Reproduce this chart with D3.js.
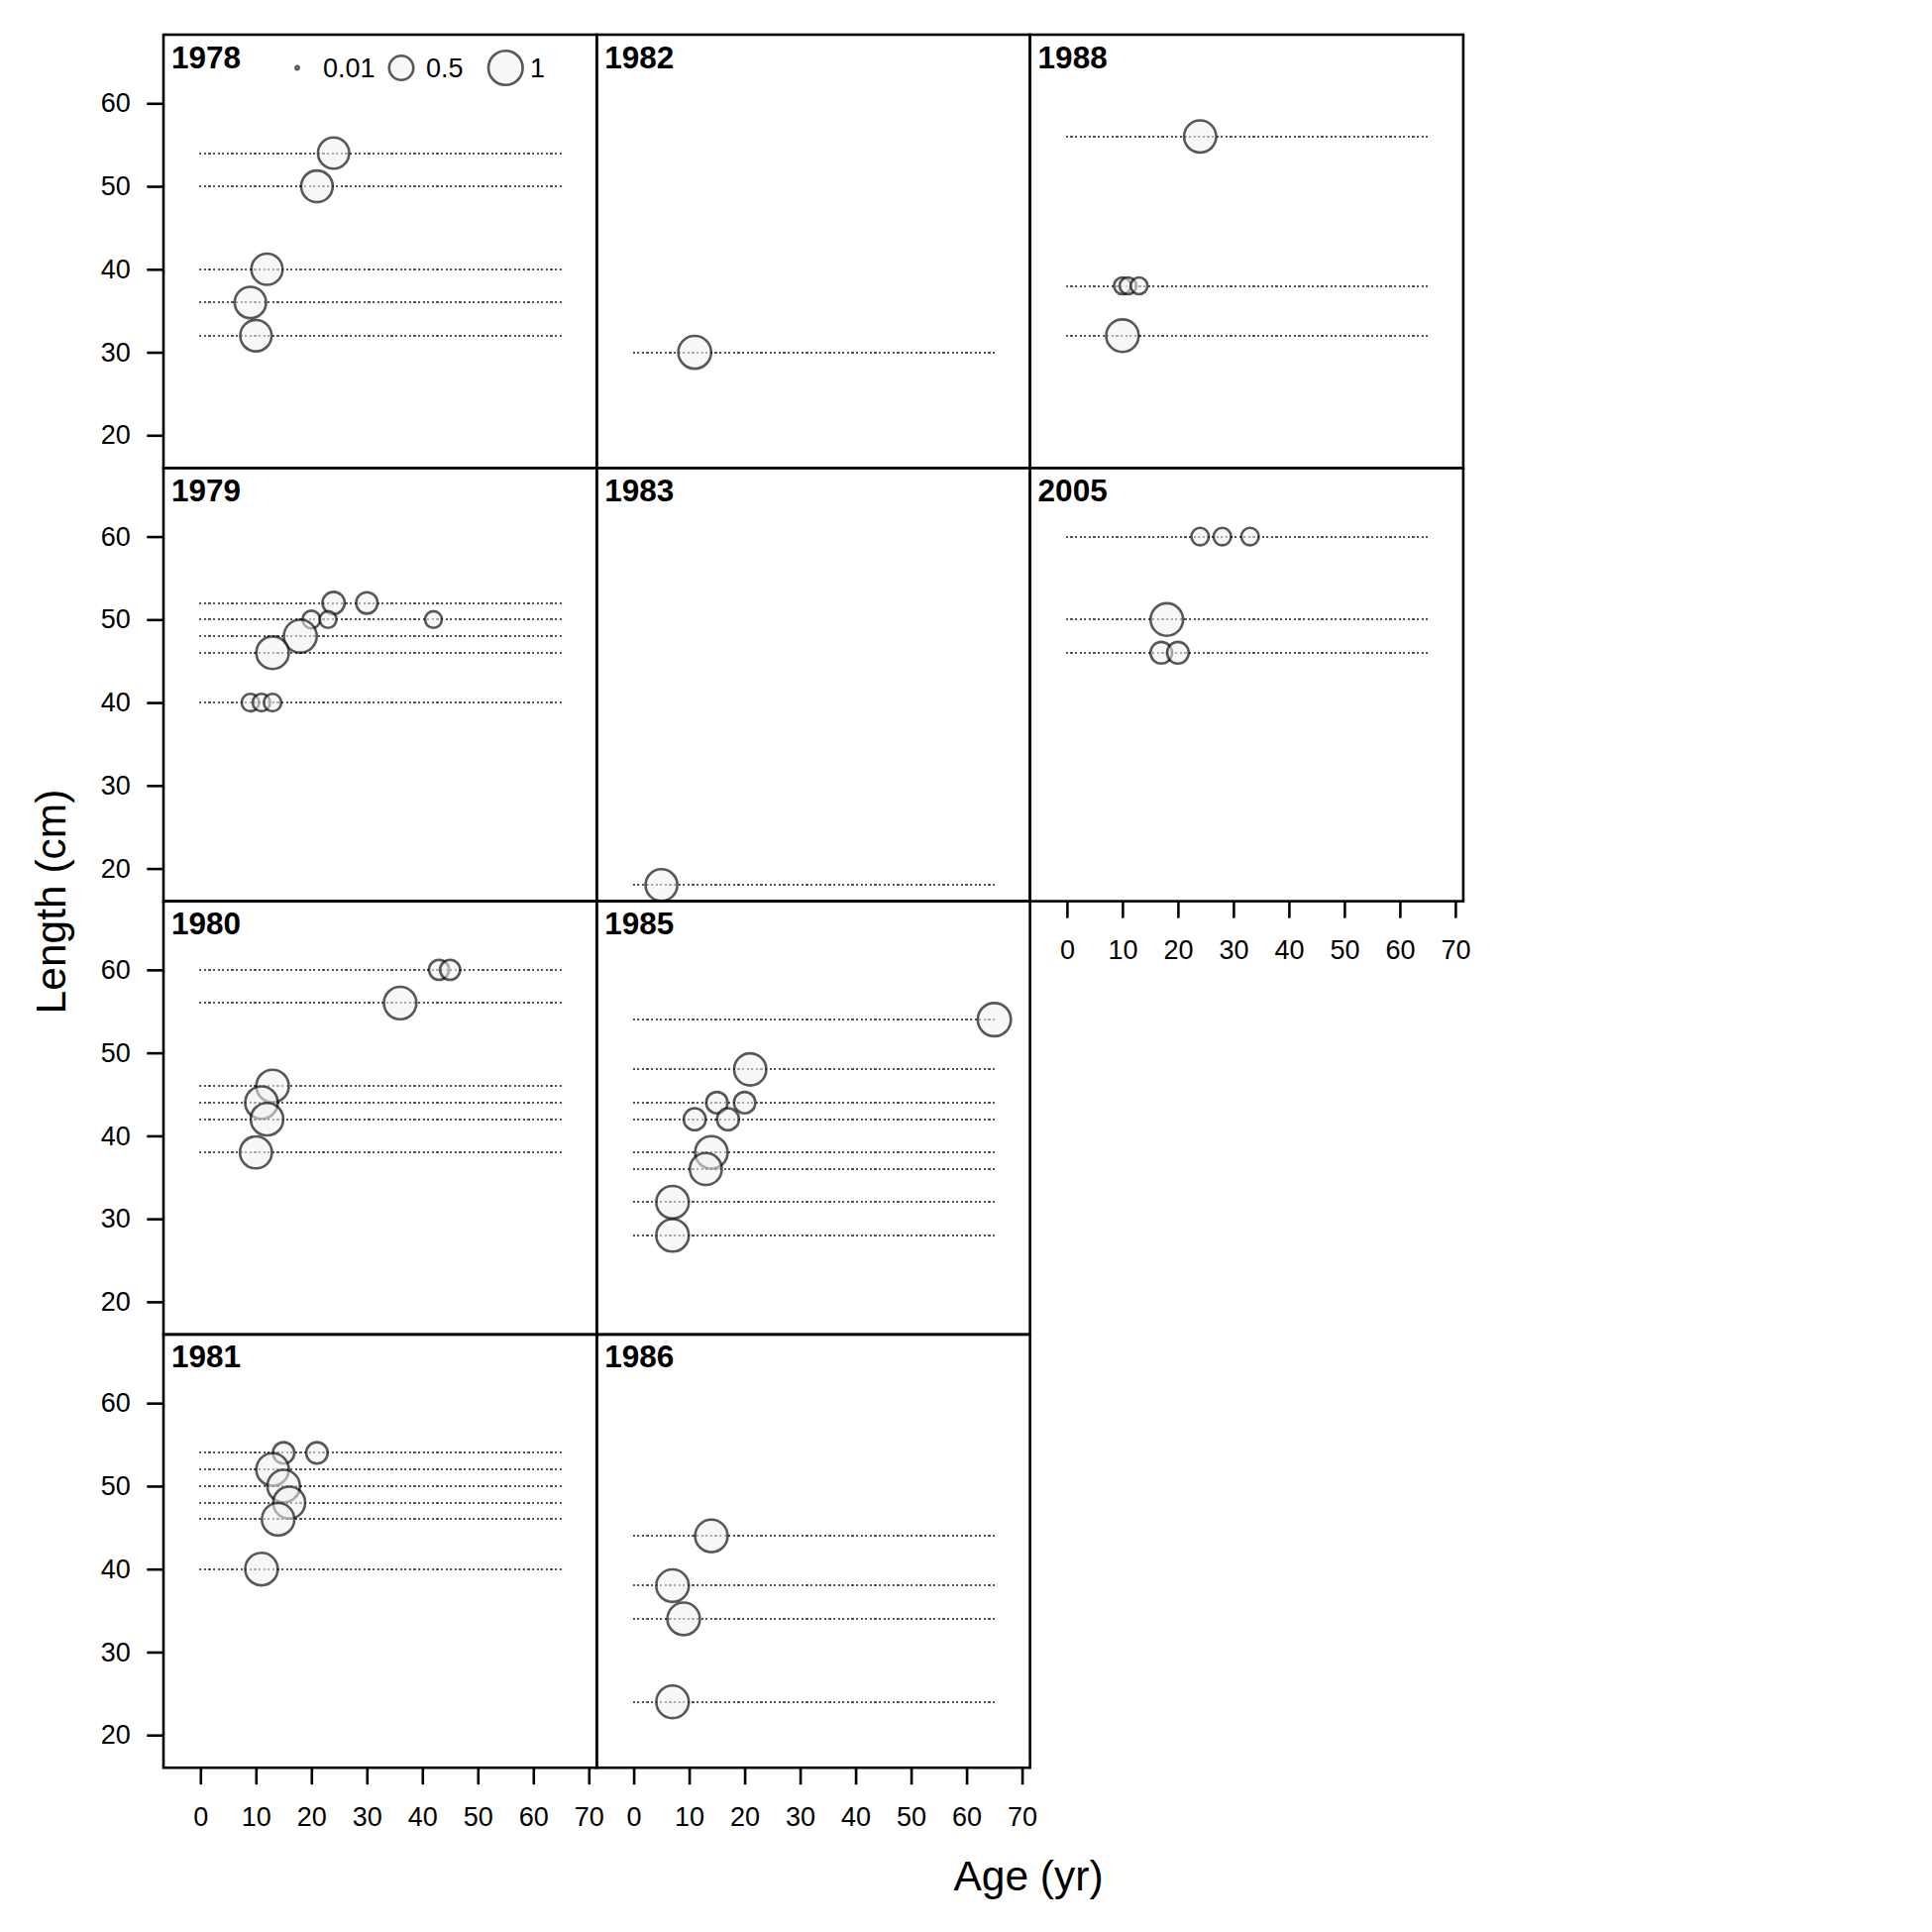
<!DOCTYPE html>
<html>
<head>
<meta charset="utf-8">
<script src="https://cdn.jsdelivr.net/npm/d3@7"></script>
<style>
  html, body { margin: 0; padding: 0; background: #ffffff; }
  svg { display: block; font-family: "Liberation Sans", Arial, sans-serif; }
</style>
</head>
<body>
<svg id="chart" width="1950" height="1950"></svg>
<script>
// ---------------- DATA ----------------
const panelYears = ["1978", "1979", "1980", "1981", "1982", "1983", "1985", "1986", "1988", "2005"];

const obsYear = [
  "1978","1978","1978","1978","1978",
  "1979","1979","1979","1979","1979","1979","1979","1979","1979","1979",
  "1980","1980","1980","1980","1980","1980","1980",
  "1981","1981","1981","1981","1981","1981","1981",
  "1982",
  "1983",
  "1985","1985","1985","1985","1985","1985","1985","1985","1985","1985",
  "1986","1986","1986","1986",
  "1988","1988","1988","1988","1988",
  "2005","2005","2005","2005","2005","2005"
];
const obsAge = [
  24, 21, 12, 9, 10,
  24, 30, 20, 23, 42, 18, 13, 9, 11, 13,
  43, 45, 36, 13, 11, 12, 10,
  15, 21, 13, 15, 16, 14, 11,
  11,
  5,
  65, 21, 15, 20, 11, 17, 14, 13, 7, 7,
  14, 7, 9, 7,
  24, 10, 11, 13, 10,
  24, 28, 33, 18, 17, 20
];
const obsLength = [
  54, 50, 40, 36, 32,
  52, 52, 50, 50, 50, 48, 46, 40, 40, 40,
  60, 60, 56, 46, 44, 42, 38,
  54, 54, 52, 50, 48, 46, 40,
  30,
  18,
  54, 48, 44, 44, 42, 42, 38, 36, 32, 28,
  44, 38, 34, 24,
  56, 38, 38, 38, 32,
  60, 60, 60, 50, 46, 46
];
const obsProp = [
  0.83, 0.85, 0.83, 0.84, 0.84,
  0.42, 0.39, 0.27, 0.24, 0.24, 0.92, 0.90, 0.26, 0.26, 0.26,
  0.34, 0.34, 0.90, 0.90, 0.90, 0.90, 0.87,
  0.39, 0.39, 0.90, 0.90, 0.87, 0.90, 0.90,
  0.92,
  0.86,
  0.94, 0.88, 0.39, 0.39, 0.41, 0.41, 0.90, 0.87, 0.90, 0.90,
  0.90, 0.90, 0.90, 0.90,
  0.88, 0.24, 0.24, 0.24, 0.90,
  0.26, 0.26, 0.26, 0.90, 0.40, 0.40
];

const xTicks = [0, 10, 20, 30, 40, 50, 60, 70];
const yTicks = [20, 30, 40, 50, 60];
const legendValues = [0.01, 0.5, 1];
const legendLabels = ["0.01", "0.5", "1"];
const lineAgeRange = [0, 65];
const xLabel = "Age (yr)";
const yLabel = "Length (cm)";

// ---------------- LAYOUT ----------------
const svg = d3.select("#chart");
const nRows = 4;
const gridLeft = 165, gridTop = 35, pw = 437.3, ph = 437.3;
const tickFont = 27;

const x = d3.scaleLinear().domain([-6.66, 71.43]).range([0, pw]);
const y = d3.scaleLinear().domain([16.06, 68.27]).range([ph, 0]);
const r = d3.scaleSqrt().domain([0, 1]).range([0, 17.3]);

const obs = obsYear.map((yr, i) => ({ year: yr, age: obsAge[i], len: obsLength[i], p: obsProp[i] }));

const defs = svg.append("defs");

panelYears.forEach((yr, i) => {
  const col = Math.floor(i / nRows), row = i % nRows;
  const px = gridLeft + col * pw, py = gridTop + row * ph;
  const g = svg.append("g").attr("transform", `translate(${px},${py})`);

  defs.append("clipPath").attr("id", "clip" + i)
    .append("rect").attr("width", pw).attr("height", ph);

  const inner = g.append("g").attr("clip-path", `url(#clip${i})`);
  const pts = obs.filter(d => d.year === yr);
  const lens = Array.from(new Set(pts.map(d => d.len)));

  // snap the dotted guide lines to whole device pixels so every line renders alike
  const snapY = d => Math.round(py + y(d)) - py;
  inner.selectAll("line.guide").data(lens).join("line")
    .attr("class", "guide")
    .attr("x1", x(lineAgeRange[0]) - 1).attr("x2", x(lineAgeRange[1]) + 1)
    .attr("y1", snapY).attr("y2", snapY)
    .attr("stroke", "#555555").attr("stroke-width", 2)
    .attr("shape-rendering", "crispEdges")
    .attr("stroke-dasharray", "2.2 2.4");

  inner.selectAll("circle.bub").data(pts).join("circle")
    .attr("class", "bub")
    .attr("cx", d => x(d.age)).attr("cy", d => y(d.len))
    .attr("r", d => r(d.p))
    .attr("fill", "#f0f0f0").attr("fill-opacity", 0.55)
    .attr("stroke", "#000").attr("stroke-opacity", 0.65).attr("stroke-width", 2.6);

  // panel label
  g.append("text").attr("x", 8).attr("y", 33.5)
    .attr("font-size", 31.5).attr("font-weight", "bold").attr("fill", "#000")
    .text(yr);

  // border
  g.append("rect").attr("width", pw).attr("height", ph)
    .attr("fill", "none").attr("stroke", "#000").attr("stroke-width", 2.6);

  // legend in first panel
  if (i === 0) {
    const lx = [135, 240, 345.3];
    const tx = [161, 265, 370];
    const lg = g.append("g").attr("transform", "translate(0,33.5)");
    legendValues.forEach((v, k) => {
      lg.append("circle").attr("cx", lx[k]).attr("cy", 0).attr("r", r(v))
        .attr("fill", "#f0f0f0").attr("fill-opacity", 0.55)
        .attr("stroke", "#000").attr("stroke-opacity", 0.65)
        .attr("stroke-width", v < 0.1 ? 2.4 : 2.6);
      lg.append("text").attr("x", tx[k]).attr("y", 0).attr("dy", "0.36em")
        .attr("font-size", tickFont).attr("fill", "#000").text(legendLabels[k]);
    });
  }

  // y axis on first column
  if (col === 0) {
    const ya = g.append("g").call(d3.axisLeft(y).tickValues(yTicks).tickSize(16.7).tickPadding(16.5).tickSizeOuter(0));
    ya.select(".domain").remove();
    ya.selectAll("line").attr("stroke", "#000").attr("stroke-width", 2.6);
    ya.selectAll("text").attr("font-size", tickFont).attr("font-family", "Liberation Sans, Arial, sans-serif").attr("fill", "#000");
  }

  // x axis under last panel of each column
  const lastInCol = (i === panelYears.length - 1) || (row === nRows - 1);
  if (lastInCol) {
    const xa = g.append("g").attr("transform", `translate(0,${ph})`)
      .call(d3.axisBottom(x).tickValues(xTicks).tickSize(17).tickSizeOuter(0));
    xa.select(".domain").remove();
    xa.selectAll("line").attr("stroke", "#000").attr("stroke-width", 2.6);
    xa.selectAll("text").attr("font-size", tickFont).attr("font-family", "Liberation Sans, Arial, sans-serif").attr("fill", "#000")
      .attr("y", 58.7).attr("dy", 0);
  }
});

// axis titles
svg.append("text").attr("x", 1038).attr("y", 1908).attr("text-anchor", "middle")
  .attr("font-size", 42.5).attr("fill", "#000").text(xLabel);
svg.append("text").attr("transform", "translate(66,910) rotate(-90)").attr("text-anchor", "middle")
  .attr("font-size", 42.5).attr("fill", "#000").text(yLabel);
</script>
</body>
</html>
